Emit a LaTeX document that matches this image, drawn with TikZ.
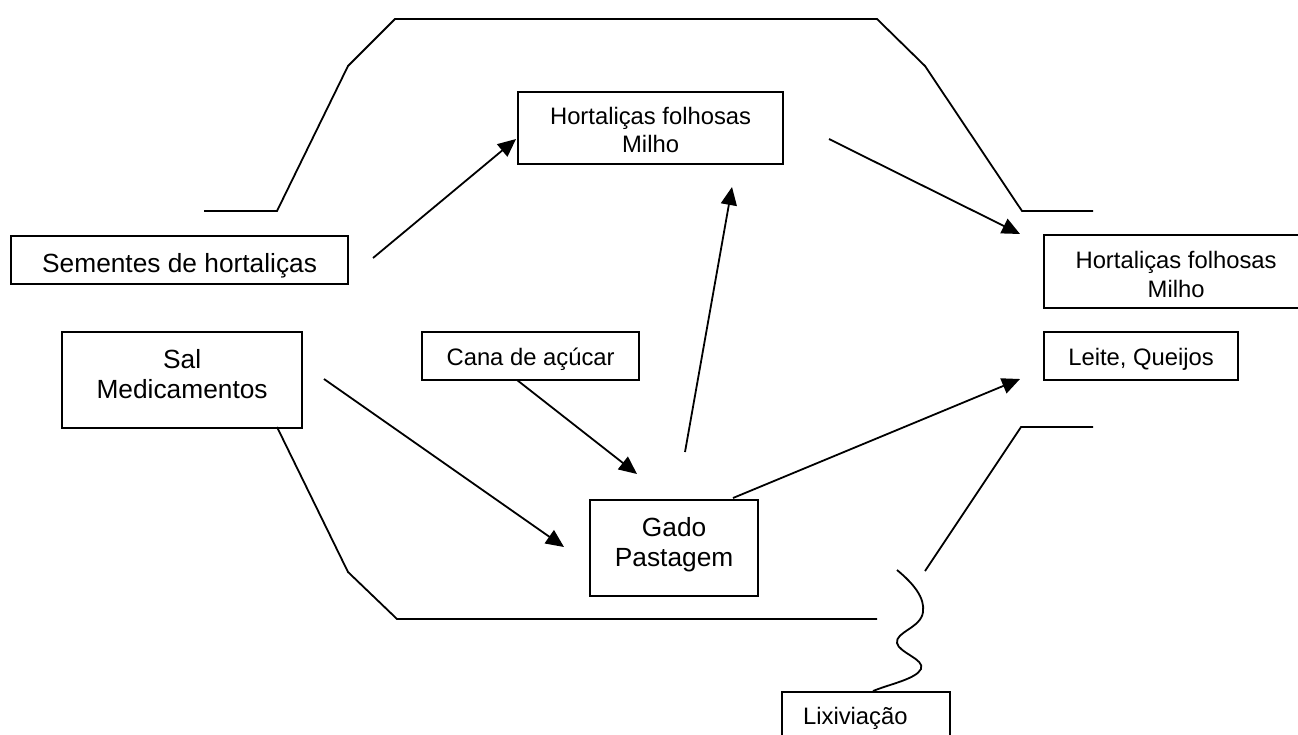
\documentclass[tikz,border=0pt]{standalone}
\usepackage{fontspec}
\setmainfont{Liberation Sans}
\usetikzlibrary{arrows.meta}
\newcommand\bigf{\fontsize{26.3pt}{30pt}\selectfont}
\newcommand\smallf{\fontsize{23.8pt}{28.4pt}\selectfont}
\newcommand\boxcontent[4]{\parbox[c][#2][t]{#1}{\centering\rule{0pt}{#3}#4}}
\tikzset{
  box/.style={draw, line width=2.2pt, inner sep=0pt, anchor=north west},
  conn/.style={line width=1.8pt, line join=miter},
  arr/.style={conn, -{Triangle[length=18pt,width=16pt]}},
}
\begin{document}
\begin{tikzpicture}[x=1pt,y=-1pt]
\clip (0,0) rectangle (1298,734);
\fill[white] (0,0) rectangle (1298,734);

% boxes
\node[box] (sem) at (10,235) {\bigf\boxcontent{337pt}{48pt}{36pt}{Sementes de hortaliças}};
\node[box] (sal) at (61,331) {\bigf\boxcontent{240pt}{96pt}{36pt}{Sal\\Medicamentos}};
\node[box] (htop) at (517,91) {\smallf\boxcontent{265pt}{72pt}{32pt}{Hortaliças folhosas\\Milho}};
\node[box] (hright) at (1043,234) {\smallf\boxcontent{264pt}{73pt}{33.7pt}{Hortaliças folhosas\\Milho}};
\node[box] (leite) at (1043,331) {\smallf\boxcontent{194pt}{48pt}{33pt}{Leite, Queijos}};
\node[box] (cana) at (421,331) {\smallf\boxcontent{217pt}{48pt}{33pt}{Cana de açúcar}};
\node[box] (gado) at (589,499) {\bigf\boxcontent{168pt}{96pt}{36pt}{Gado\\Pastagem}};
\node[box] (lix) at (781,691) {\smallf\parbox[c][60pt][t]{168pt}{\raggedright\hspace*{21pt}\rule{0pt}{32pt}Lixiviação}};

% boundary lines
\draw[conn] (204,211) -- (277,211) -- (348,66) -- (395,19) -- (877,19) -- (925,66) -- (1022,211) -- (1093,211);
\draw[conn] (277,427) -- (348,572) -- (397,619) -- (877,619);
\draw[conn] (1093,427) -- (1021,427) -- (925,571);

% wavy line to Lixiviação
\coordinate (w0) at (897,570);
\coordinate (w1) at (873,691);
\draw[conn] (w0) .. controls (914,584) and (925,598) .. (923,612)
  .. controls (921,628) and (895,632) .. (897,643)
  .. controls (899,653) and (925,659) .. (921,669)
  .. controls (916,679) and (890,684) .. (w1);

% arrows
\coordinate (a1s) at (373,258); \coordinate (a1e) at (516,139);
\coordinate (a2s) at (829,139); \coordinate (a2e) at (1020,234);
\coordinate (a3s) at (685,452); \coordinate (a3e) at (732,187);
\coordinate (a4s) at (517,380); \coordinate (a4e) at (637,474);
\coordinate (a5s) at (324,379); \coordinate (a5e) at (564,547);
\coordinate (a6s) at (733,498); \coordinate (a6e) at (1020,379);
\draw[arr] (a1s) -- (a1e);
\draw[arr] (a2s) -- (a2e);
\draw[arr] (a3s) -- (a3e);
\draw[arr] (a4s) -- (a4e);
\draw[arr] (a5s) -- (a5e);
\draw[arr] (a6s) -- (a6e);
\end{tikzpicture}
\end{document}
